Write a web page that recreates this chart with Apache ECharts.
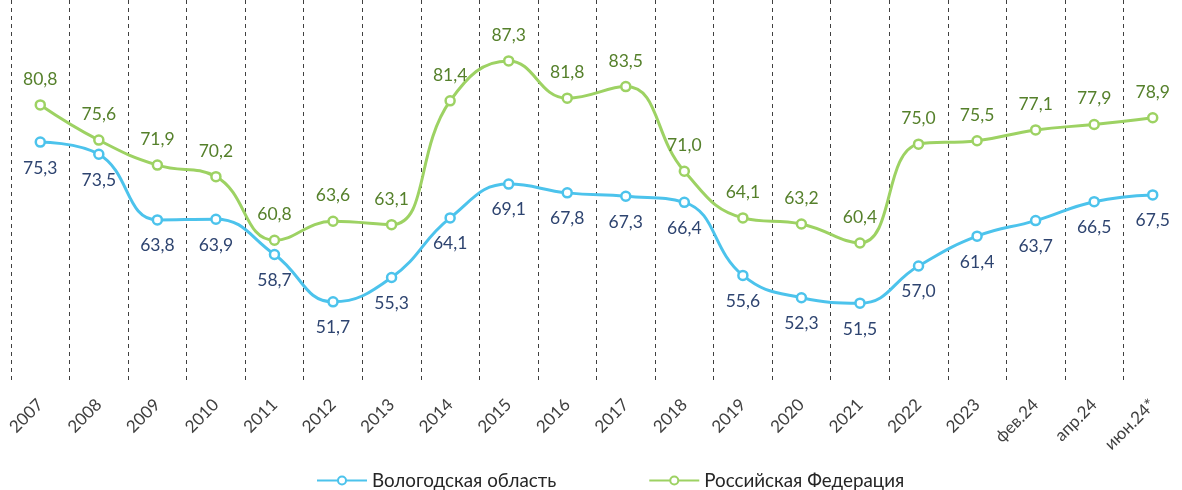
<!DOCTYPE html>
<html>
<head>
<meta charset="utf-8">
<script src="https://cdn.jsdelivr.net/npm/echarts@6/dist/echarts.min.js"></script>
<style>
  html, body { margin: 0; padding: 0; background: #fff; }
  #chart { width: 1182px; height: 490px; }
</style>
</head>
<body>
<div id="chart"></div>
<script>
const categories = ['2007', '2008', '2009', '2010', '2011', '2012', '2013', '2014', '2015', '2016',
  '2017', '2018', '2019', '2020', '2021', '2022', '2023', 'фев.24', 'апр.24', 'июн.24*'];
const vologda = [75.3, 73.5, 63.8, 63.9, 58.7, 51.7, 55.3, 64.1, 69.1, 67.8,
  67.3, 66.4, 55.6, 52.3, 51.5, 57.0, 61.4, 63.7, 66.5, 67.5];
const russia = [80.8, 75.6, 71.9, 70.2, 60.8, 63.6, 63.1, 81.4, 87.3, 81.8,
  83.5, 71.0, 64.1, 63.2, 60.4, 75.0, 75.5, 77.1, 77.9, 78.9];

const chart = echarts.init(document.getElementById('chart'));
const fmt = p => p.value.toFixed(1).replace('.', ',');
const font = 'Lato, "Open Sans", sans-serif';

chart.setOption({
  animation: false,
  textStyle: { fontFamily: font },
  grid: { left: 11, top: 0, width: 1176, height: 381, containLabel: false },
  legend: {
    top: 466,
    left: 311,
    itemWidth: 50,
    itemHeight: 10,
    itemGap: 92,
    textStyle: { fontSize: 18.8, color: '#262626', fontFamily: font },
    data: ['Вологодская область', 'Российская Федерация']
  },
  xAxis: {
    type: 'category',
    data: categories,
    boundaryGap: true,
    axisLine: { show: false },
    axisTick: { show: false },
    axisLabel: { rotate: 45, fontSize: 17, color: '#404040', margin: 21, interval: 0 },
    splitLine: { show: true, interval: 0, lineStyle: { color: '#404040', type: [4, 4], width: 1 } }
  },
  yAxis: {
    type: 'value',
    min: 40,
    max: 96.3,
    show: false,
    splitLine: { show: false }
  },
  series: [
    {
      name: 'Вологодская область',
      type: 'line',
      data: vologda,
      smooth: 0.45,
      symbol: 'circle',
      symbolSize: 9,
      lineStyle: { width: 3, color: '#4cc3ec' },
      itemStyle: { color: '#fff', borderColor: '#4cc3ec', borderWidth: 2.5 },
      label: { show: true, position: 'bottom', distance: 11, fontSize: 17.5, color: '#2e4470', formatter: fmt }
    },
    {
      name: 'Российская Федерация',
      type: 'line',
      data: russia,
      smooth: 0.45,
      symbol: 'circle',
      symbolSize: 9,
      lineStyle: { width: 3, color: '#9dd263' },
      itemStyle: { color: '#fff', borderColor: '#9dd263', borderWidth: 2.5 },
      label: { show: true, position: 'top', distance: 11, fontSize: 17.5, color: '#55802b', formatter: fmt }
    }
  ]
});
</script>
</body>
</html>
